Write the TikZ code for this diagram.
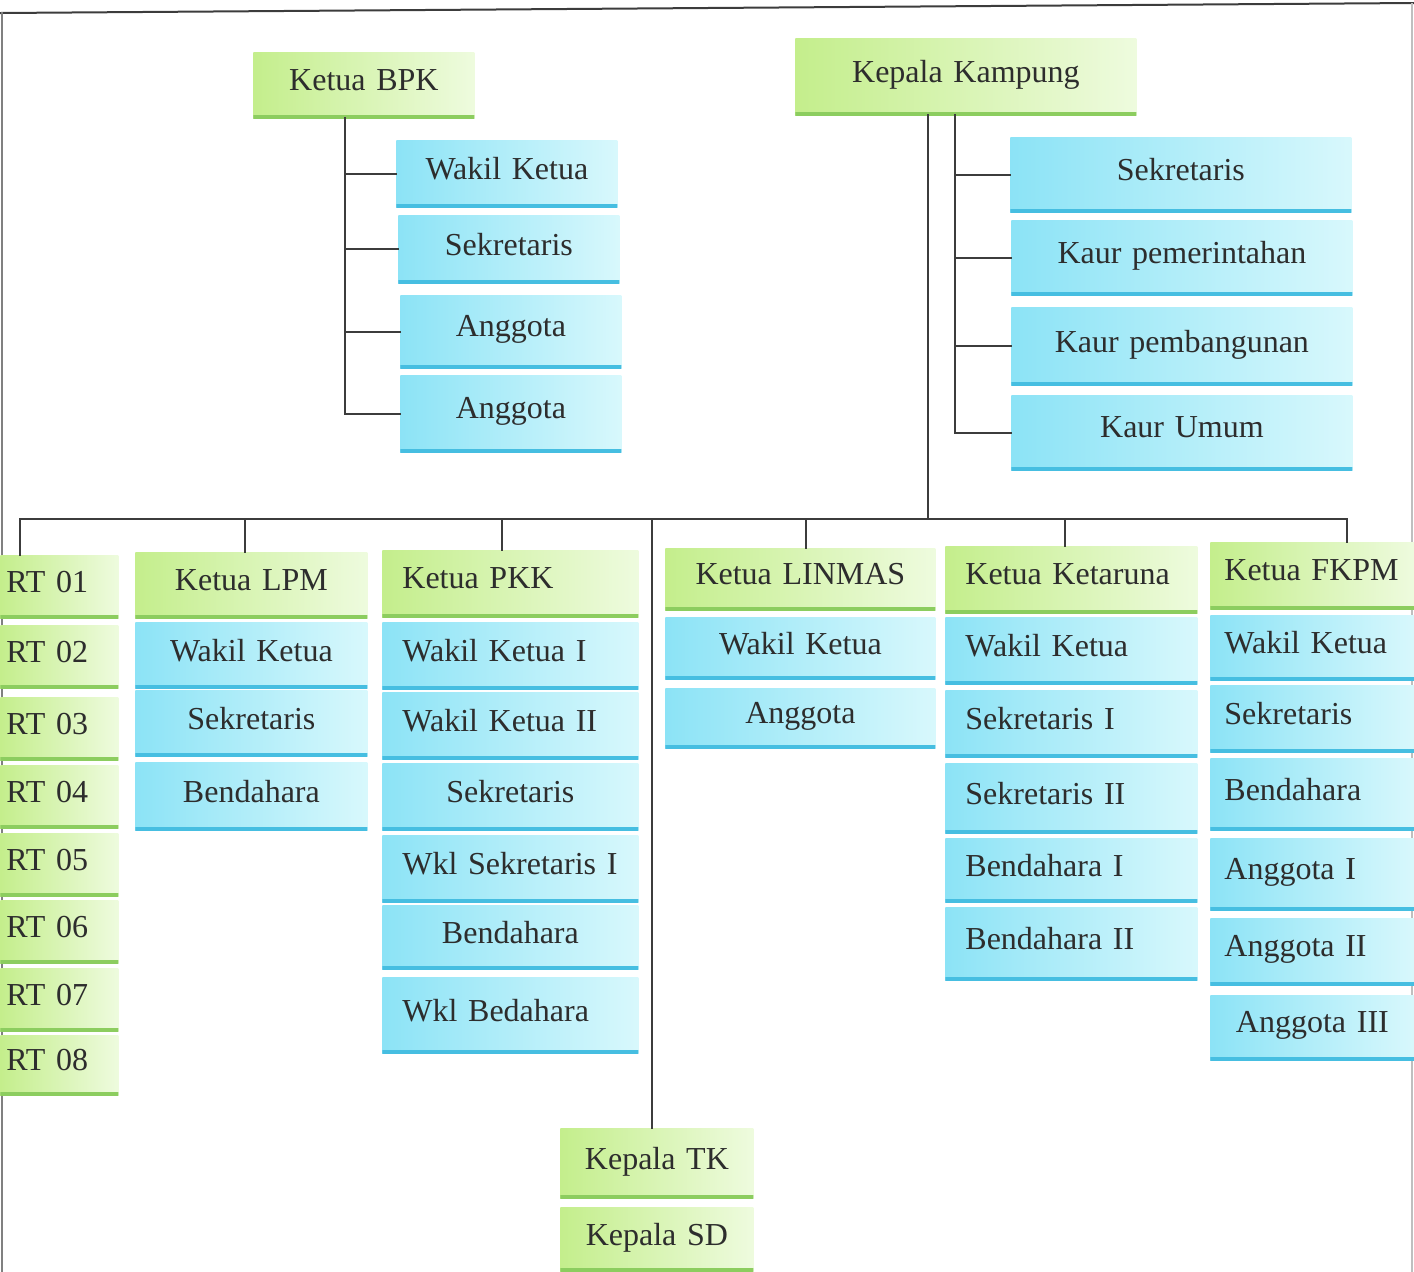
\documentclass[tikz,border=0pt]{standalone}
\usepackage{fontspec}
\setmainfont{Liberation Serif}

\definecolor{hijauA}{RGB}{196,238,140}
\definecolor{hijauB}{RGB}{238,251,222}
\definecolor{hijauC}{RGB}{140,205,95}
\definecolor{biruA}{RGB}{140,227,246}
\definecolor{biruB}{RGB}{216,248,252}
\definecolor{biruC}{RGB}{70,190,225}
\definecolor{teks}{RGB}{45,45,45}
\definecolor{garis}{RGB}{60,60,60}

\tikzset{
  kotak/.style={rectangle, anchor=north west, inner ysep=0pt, inner xsep=10pt, text=teks,
    font=\fontsize{16}{19}\selectfont, align=center, text depth=5.5pt},
  hijau/.style={kotak, left color=hijauA, right color=hijauB,
    path picture={\draw[hijauC, line width=3pt] (path picture bounding box.south west) -- (path picture bounding box.south east);}},
  biru/.style={kotak, left color=biruA, right color=biruB,
    path picture={\draw[biruC, line width=3pt] (path picture bounding box.south west) -- (path picture bounding box.south east);}},
  kiri/.style={align=left},
  hub/.style={garis, line width=1pt},
  % lebar kolom
  bpkcol/.style={text width=90.5pt, minimum height=35pt},
  kkcol/.style={text width=150.5pt, minimum height=37.5pt},
  rtcol/.style={inner xsep=3pt, text width=53pt, minimum height=31.5pt, align=left},
  lpmcol/.style={text width=96pt, minimum height=33pt},
  pkkcol/.style={text width=108pt, minimum height=33.5pt},
  lincol/.style={text width=115pt, minimum height=31pt},
  ktcol/.style={text width=106pt, minimum height=33.5pt, align=left},
  fkcol/.style={inner xsep=7pt, text width=88pt, minimum height=33.5pt, align=left},
  skcol/.style={text width=76.5pt, minimum height=34pt}
}

\begin{document}
\begin{tikzpicture}[x=0.5pt, y=-0.5pt, line cap=rect]
  \useasboundingbox (0,0) rectangle (1414,1271);
  % bingkai
  \draw[hub] (0,13) -- (1414,3);
  \draw[gray, line width=1pt] (2,13) -- (2,1271);
  \draw[black!25, line width=0.8pt] (1412,4) -- (1412,1271);

  % BPK
  \node[hijau, bpkcol, minimum height=33pt] (bpk) at (253,52) {Ketua BPK};
  \node[biru, bpkcol, minimum height=33.5pt] (bpk1) at (396,140) {Wakil Ketua};
  \node[biru, bpkcol, minimum height=34pt] (bpk2) at (398,215) {Sekretaris};
  \node[biru, bpkcol, minimum height=36.5pt] (bpk3) at (400,295) {Anggota};
  \node[biru, bpkcol, minimum height=38.5pt] (bpk4) at (400,375) {Anggota};

  % Kepala Kampung
  \node[hijau, kkcol, minimum height=38.5pt] (kk) at (795,38) {Kepala Kampung};
  \node[biru, kkcol] (kk1) at (1010,137) {Sekretaris};
  \node[biru, kkcol] (kk2) at (1011,220) {Kaur pemerintahan};
  \node[biru, kkcol, minimum height=39pt] (kk3) at (1011,307) {Kaur pembangunan};
  \node[biru, kkcol] (kk4) at (1011,395) {Kaur Umum};

  % RT
  \node[hijau, rtcol] (rt1) at (0,555) {RT 01};
  \node[hijau, rtcol] (rt2) at (0,625) {RT 02};
  \node[hijau, rtcol] (rt3) at (0,697) {RT 03};
  \node[hijau, rtcol] (rt4) at (0,765) {RT 04};
  \node[hijau, rtcol] (rt5) at (0,833) {RT 05};
  \node[hijau, rtcol] (rt6) at (0,900) {RT 06};
  \node[hijau, rtcol] (rt7) at (0,968) {RT 07};
  \node[hijau, rtcol, minimum height=30pt] (rt8) at (0,1035) {RT 08};

  % LPM
  \node[hijau, lpmcol] (lpm) at (135,552) {Ketua LPM};
  \node[biru, lpmcol] (lpm1) at (135,622) {Wakil Ketua};
  \node[biru, lpmcol] (lpm2) at (135,690) {Sekretaris};
  \node[biru, lpmcol, minimum height=34pt] (lpm3) at (135,762) {Bendahara};

  % PKK
  \node[hijau, pkkcol, kiri] (pkk) at (382,550) {Ketua PKK};
  \node[biru, pkkcol, kiri] (pkk1) at (382,622) {Wakil Ketua I};
  \node[biru, pkkcol, kiri] (pkk2) at (382,692) {Wakil Ketua II};
  \node[biru, pkkcol] (pkk3) at (382,763) {Sekretaris};
  \node[biru, pkkcol, kiri] (pkk4) at (382,835) {Wkl Sekretaris I};
  \node[biru, pkkcol, minimum height=32pt] (pkk5) at (382,905) {Bendahara};
  \node[biru, pkkcol, kiri, minimum height=38pt] (pkk6) at (382,977) {Wkl Bedahara};

  % LINMAS
  \node[hijau, lincol] (lin) at (665,548) {Ketua LINMAS};
  \node[biru, lincol] (lin1) at (665,617) {Wakil Ketua};
  \node[biru, lincol, minimum height=30pt] (lin2) at (665,688) {Anggota};

  % Ketaruna
  \node[hijau, ktcol] (kt) at (945,546) {Ketua Ketaruna};
  \node[biru, ktcol] (kt1) at (945,617) {Wakil Ketua};
  \node[biru, ktcol] (kt2) at (945,690) {Sekretaris I};
  \node[biru, ktcol, minimum height=35pt] (kt3) at (945,763) {Sekretaris II};
  \node[biru, ktcol, minimum height=32pt] (kt4) at (945,838) {Bendahara I};
  \node[biru, ktcol, minimum height=36.5pt] (kt5) at (945,907) {Bendahara II};

  % FKPM
  \node[hijau, fkcol] (fk) at (1210,542) {Ketua FKPM};
  \node[biru, fkcol, minimum height=32.5pt] (fk1) at (1210,615) {Wakil Ketua};
  \node[biru, fkcol] (fk2) at (1210,685) {Sekretaris};
  \node[biru, fkcol, minimum height=36pt] (fk3) at (1210,758) {Bendahara};
  \node[biru, fkcol, minimum height=36pt] (fk4) at (1210,838) {Anggota I};
  \node[biru, fkcol] (fk5) at (1210,918) {Anggota II};
  \node[biru, fkcol, align=center, minimum height=32.5pt] (fk6) at (1210,995) {Anggota III};

  % sekolah
  \node[hijau, skcol, minimum height=35pt] (tk) at (560,1128) {Kepala TK};
  \node[hijau, skcol, minimum height=32pt] (sd) at (560,1207) {Kepala SD};

  % garis BPK
  \coordinate (bpkv) at (345,118);
  \draw[hub] (bpkv) -- (bpkv |- bpk4.west);
  \draw[hub] (bpkv |- bpk1.west) -- (bpk1.west);
  \draw[hub] (bpkv |- bpk2.west) -- (bpk2.west);
  \draw[hub] (bpkv |- bpk3.west) -- (bpk3.west);
  \draw[hub] (bpkv |- bpk4.west) -- (bpk4.west);

  % garis Kepala Kampung
  \coordinate (kkv) at (955,115);
  \coordinate (kkm) at (928,115);
  \draw[hub] (kkv) -- (kkv |- kk4.west);
  \draw[hub] (kkv |- kk1.west) -- (kk1.west);
  \draw[hub] (kkv |- kk2.west) -- (kk2.west);
  \draw[hub] (kkv |- kk3.west) -- (kk3.west);
  \draw[hub] (kkv |- kk4.west) -- (kk4.west);

  % garis bawah
  \coordinate (bRT) at (20,519);
  \coordinate (bLPM) at (245,519);
  \coordinate (bPKK) at (502,519);
  \coordinate (bSK) at (652,519);
  \coordinate (bLIN) at (806,519);
  \coordinate (bKK) at (928,519);
  \coordinate (bKT) at (1065,519);
  \coordinate (bFK) at (1347,519);
  \draw[hub] (bRT) -- (bFK);
  \draw[hub] (kkm) -- (bKK);
  \draw[hub] (bRT) -- (bRT |- rt1.north);
  \draw[hub] (bLPM) -- (bLPM |- lpm.north);
  \draw[hub] (bPKK) -- (bPKK |- pkk.north);
  \draw[hub] (bSK) -- (bSK |- tk.north);
  \draw[hub] (bLIN) -- (bLIN |- lin.north);
  \draw[hub] (bKT) -- (bKT |- kt.north);
  \draw[hub] (bFK) -- (bFK |- fk.north);
\end{tikzpicture}
\end{document}
